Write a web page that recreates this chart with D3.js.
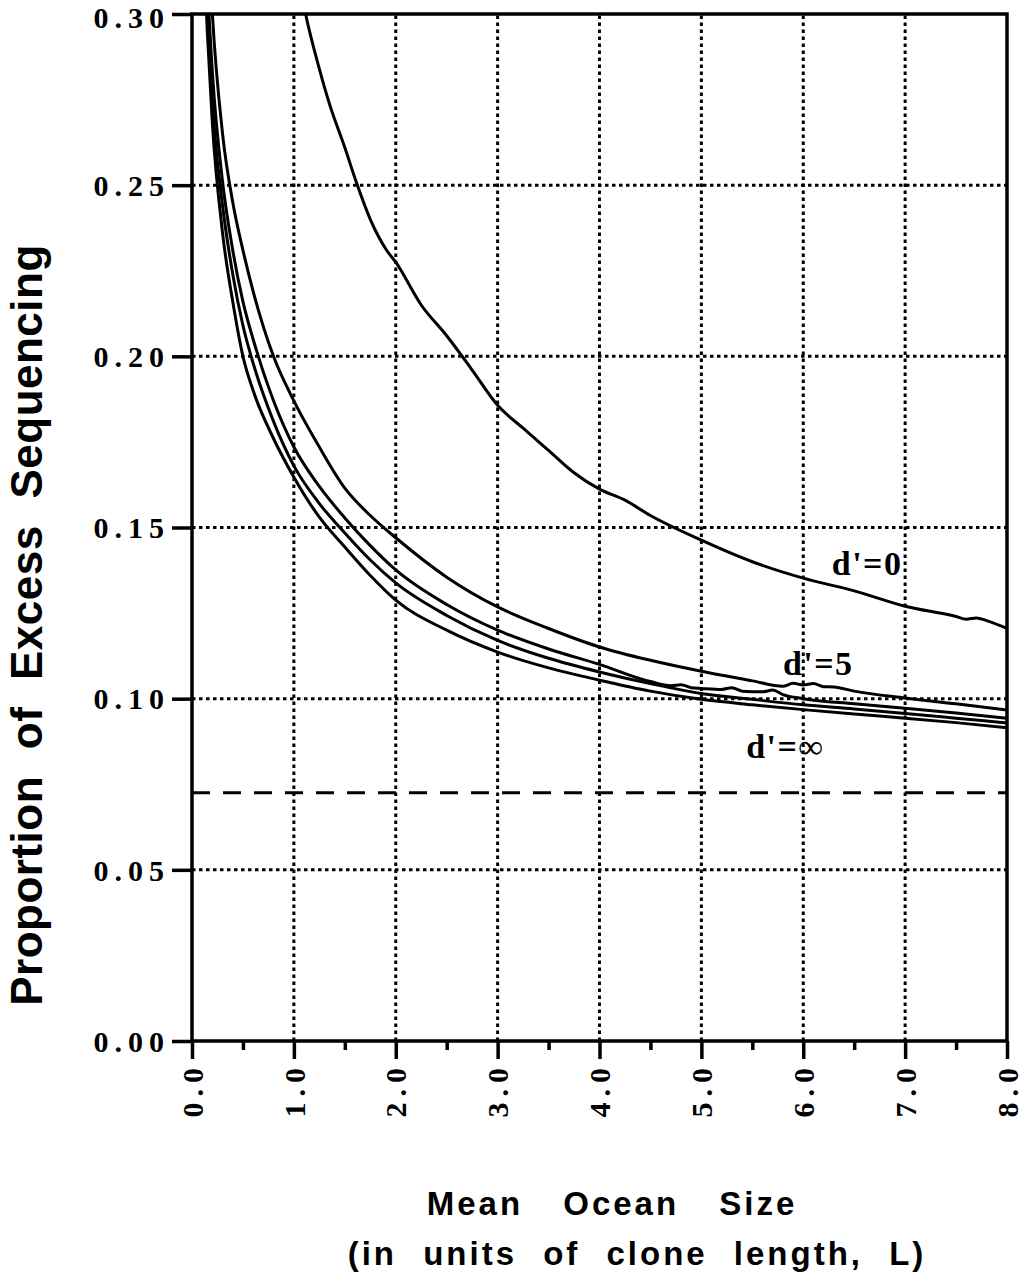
<!DOCTYPE html>
<html>
<head>
<meta charset="utf-8">
<script src="https://cdn.jsdelivr.net/npm/d3@7"></script>
<style>
  body { margin: 0; background: #fff; }
  svg { display: block; }
  .tick-label { font-family: "Liberation Serif", "Times New Roman", serif; font-weight: bold; font-size: 30px; letter-spacing: 6px; fill: #000; }
  .axis-title { font-family: "Liberation Sans", Arial, sans-serif; font-weight: bold; fill: #000; }
  .curve-label { font-family: "Liberation Serif", "Times New Roman", serif; font-weight: bold; font-size: 34px; letter-spacing: 1.5px; fill: #000; }
</style>
</head>
<body>
<svg id="chart" width="1027" height="1280"></svg>
<script>
// axis ticks
const xTicks = [0, 1, 2, 3, 4, 5, 6, 7, 8];
const xMinorTicks = [0.5, 1.5, 2.5, 3.5, 4.5, 5.5, 6.5, 7.5];
const yTicks = [0, 0.05, 0.10, 0.15, 0.20, 0.25, 0.30];

// d'=0 curve (top)
const d0X = [1.05, 1.115, 1.25, 1.354, 1.5, 1.616, 1.75, 1.91, 2.0, 2.25, 2.5, 2.75, 3.0, 3.25, 3.5, 3.75, 4.0, 4.25, 4.5, 5.0, 5.5, 6.0, 6.5, 7.0, 7.5, 7.6, 7.7, 7.8, 8.0];
const d0Y = [0.31, 0.300, 0.284, 0.2733, 0.261, 0.2506, 0.240, 0.231, 0.2275, 0.215, 0.206, 0.196, 0.1857, 0.179, 0.1725, 0.166, 0.1612, 0.158, 0.1535, 0.1463, 0.140, 0.1352, 0.1315, 0.127, 0.1240, 0.1232, 0.1236, 0.1228, 0.1205];

// d'=5 curve
const d5X = [0.1, 0.15, 0.2, 0.3, 0.4, 0.5, 0.6, 0.8, 1.0, 1.25, 1.5, 1.75, 2.0, 2.5, 3.0, 3.5, 4.0, 4.5, 5.0, 5.5, 5.8, 5.9, 6.0, 6.1, 6.2, 6.3, 6.5, 7.0, 7.5, 8.0];
const d5Y = [0.37, 0.33, 0.300, 0.265, 0.245, 0.231, 0.219, 0.200, 0.187, 0.1735, 0.1615, 0.1535, 0.147, 0.1355, 0.1268, 0.1205, 0.1151, 0.1112, 0.1080, 0.1052, 0.1036, 0.1045, 0.1040, 0.1044, 0.1035, 0.1034, 0.1022, 0.1002, 0.0985, 0.0967];

// intermediate curve 1
const dMidAX = [0.1, 0.15, 0.2, 0.3, 0.4, 0.5, 0.6, 0.8, 1.0, 1.25, 1.5, 1.75, 2.0, 2.5, 3.0, 3.5, 4.0, 4.5, 4.7, 4.8, 4.9, 5.0, 5.2, 5.3, 5.4, 5.6, 5.7, 5.8, 6.0, 6.5, 7.0, 7.5, 8.0];
const dMidAY = [0.35, 0.31, 0.283, 0.251, 0.231, 0.216, 0.205, 0.187, 0.1735, 0.162, 0.1528, 0.1447, 0.1376, 0.1275, 0.120, 0.1145, 0.1100, 0.1050, 0.1038, 0.1041, 0.1032, 0.1030, 0.1027, 0.1032, 0.1022, 0.1020, 0.1025, 0.1012, 0.1000, 0.0985, 0.0972, 0.0958, 0.0943];

// intermediate curve 2
const dMidBX = [0.1, 0.15, 0.2, 0.3, 0.4, 0.5, 0.6, 0.8, 1.0, 1.25, 1.5, 1.75, 2.0, 2.5, 3.0, 3.5, 4.0, 4.5, 5.0, 5.5, 6.0, 6.5, 7.0, 7.5, 8.0];
const dMidBY = [0.34, 0.30, 0.274, 0.244, 0.224, 0.209, 0.198, 0.181, 0.168, 0.157, 0.1484, 0.1405, 0.1338, 0.1243, 0.117, 0.1118, 0.1078, 0.1044, 0.1015, 0.0998, 0.0982, 0.0970, 0.0957, 0.0943, 0.0929];

// d'=infinity curve (bottom)
const dInfX = [0.1, 0.15, 0.2, 0.3, 0.4, 0.5, 0.6, 0.8, 1.0, 1.25, 1.5, 1.75, 2.0, 2.5, 3.0, 3.5, 4.0, 4.5, 5.0, 5.5, 6.0, 6.5, 7.0, 7.5, 8.0];
const dInfY = [0.33, 0.295, 0.268, 0.236, 0.216, 0.200, 0.190, 0.176, 0.1647, 0.153, 0.1443, 0.136, 0.1288, 0.120, 0.1136, 0.109, 0.1054, 0.1022, 0.0998, 0.0982, 0.0968, 0.0955, 0.0943, 0.093, 0.0915];

// dashed reference level
const limitLevel = 0.0725;

const curveNames = ["d'=0", "d'=5", "d'=∞"];

const svg = d3.select("#chart");

const x = d3.scaleLinear().domain([0, 8]).range([192, 1007]);
const y = d3.scaleLinear().domain([0, 0.30]).range([1041, 14]);

// clip for curves
svg.append("clipPath").attr("id", "plotClip")
  .append("rect")
  .attr("x", x(0)).attr("y", y(0.30))
  .attr("width", x(8) - x(0)).attr("height", y(0) - y(0.30));

// dotted grid
const grid = svg.append("g");
grid.selectAll(".vgrid")
  .data(xTicks.slice(1, -1))
  .enter().append("line")
  .attr("x1", d => x(d)).attr("x2", d => x(d))
  .attr("y1", y(0)).attr("y2", y(0.30))
  .attr("stroke", "#000").attr("stroke-width", 3)
  .attr("stroke-dasharray", "3.5,3.5");
grid.selectAll(".hgrid")
  .data(yTicks.slice(1, -1))
  .enter().append("line")
  .attr("x1", x(0)).attr("x2", x(8))
  .attr("y1", d => y(d)).attr("y2", d => y(d))
  .attr("stroke", "#000").attr("stroke-width", 3)
  .attr("stroke-dasharray", "3.5,3.5");

// dashed line
svg.append("line")
  .attr("x1", x(0)).attr("x2", x(8))
  .attr("y1", y(limitLevel)).attr("y2", y(limitLevel))
  .attr("stroke", "#000").attr("stroke-width", 3)
  .attr("stroke-dasharray", "18,13");

// curves
const line = d3.line()
  .x(d => x(d[0]))
  .y(d => y(d[1]))
  .curve(d3.curveMonotoneX);

const series = [
  [d0X, d0Y], [d5X, d5Y], [dMidAX, dMidAY], [dMidBX, dMidBY], [dInfX, dInfY]
];

svg.append("g").attr("clip-path", "url(#plotClip)")
  .selectAll("path")
  .data(series)
  .enter().append("path")
  .attr("d", s => line(s[0].map((v, i) => [v, s[1][i]])))
  .attr("fill", "none")
  .attr("stroke", "#000")
  .attr("stroke-width", 3)
  .attr("stroke-linejoin", "round");

// frame
svg.append("rect")
  .attr("x", x(0)).attr("y", y(0.30))
  .attr("width", x(8) - x(0)).attr("height", y(0) - y(0.30))
  .attr("fill", "none").attr("stroke", "#000").attr("stroke-width", 3.5);

// y axis
const yAxis = svg.append("g")
  .attr("transform", `translate(${x(0)},0)`)
  .call(d3.axisLeft(y).tickValues(yTicks).tickSize(20).tickPadding(2).tickFormat(d3.format(".2f")));
yAxis.select(".domain").remove();
yAxis.selectAll("line").attr("stroke", "#000").attr("stroke-width", 3.5);
yAxis.selectAll("text").attr("class", "tick-label").attr("font-size", null).attr("font-family", null)
  .attr("dy", d => d === 0.30 ? "0.46em" : "0.34em");

// x axis
const xAxis = svg.append("g")
  .attr("transform", `translate(0,${y(0)})`)
  .call(d3.axisBottom(x).tickValues(xTicks).tickSize(18).tickFormat(d3.format(".1f")));
xAxis.select(".domain").remove();
xAxis.selectAll("line").attr("stroke", "#000").attr("stroke-width", 3.5);
xAxis.selectAll("text")
  .attr("class", "tick-label").attr("font-size", null).attr("font-family", null)
  .attr("transform", "rotate(-90)")
  .attr("x", -21).attr("y", 0).attr("dy", "0.34em")
  .attr("text-anchor", "end");

const xMinor = svg.append("g")
  .attr("transform", `translate(0,${y(0)})`)
  .call(d3.axisBottom(x).tickValues(xMinorTicks).tickSize(9).tickFormat(""));
xMinor.select(".domain").remove();
xMinor.selectAll("line").attr("stroke", "#000").attr("stroke-width", 3.5);

// curve labels
const labelPos = [[6.28, 0.1361], [5.80, 0.1069], [5.44, 0.0827]];
svg.selectAll(".curve-label")
  .data(curveNames)
  .enter().append("text")
  .attr("class", "curve-label")
  .attr("x", (d, i) => x(labelPos[i][0]))
  .attr("y", (d, i) => y(labelPos[i][1]))
  .text(d => d);

// axis titles
svg.append("text")
  .attr("class", "axis-title")
  .attr("transform", "translate(42,625) rotate(-90)")
  .attr("text-anchor", "middle")
  .style("font-size", "44px")
  .style("letter-spacing", "0.5px")
  .style("word-spacing", "14px")
  .text("Proportion of Excess Sequencing");

svg.append("text")
  .attr("class", "axis-title")
  .attr("x", 612).attr("y", 1215)
  .attr("text-anchor", "middle")
  .style("font-size", "33px")
  .style("letter-spacing", "3px")
  .style("word-spacing", "28px")
  .text("Mean Ocean Size");

svg.append("text")
  .attr("class", "axis-title")
  .attr("x", 637).attr("y", 1265)
  .attr("text-anchor", "middle")
  .style("font-size", "33px")
  .style("letter-spacing", "3px")
  .style("word-spacing", "14px")
  .text("(in units of clone length, L)");
</script>
</body>
</html>
